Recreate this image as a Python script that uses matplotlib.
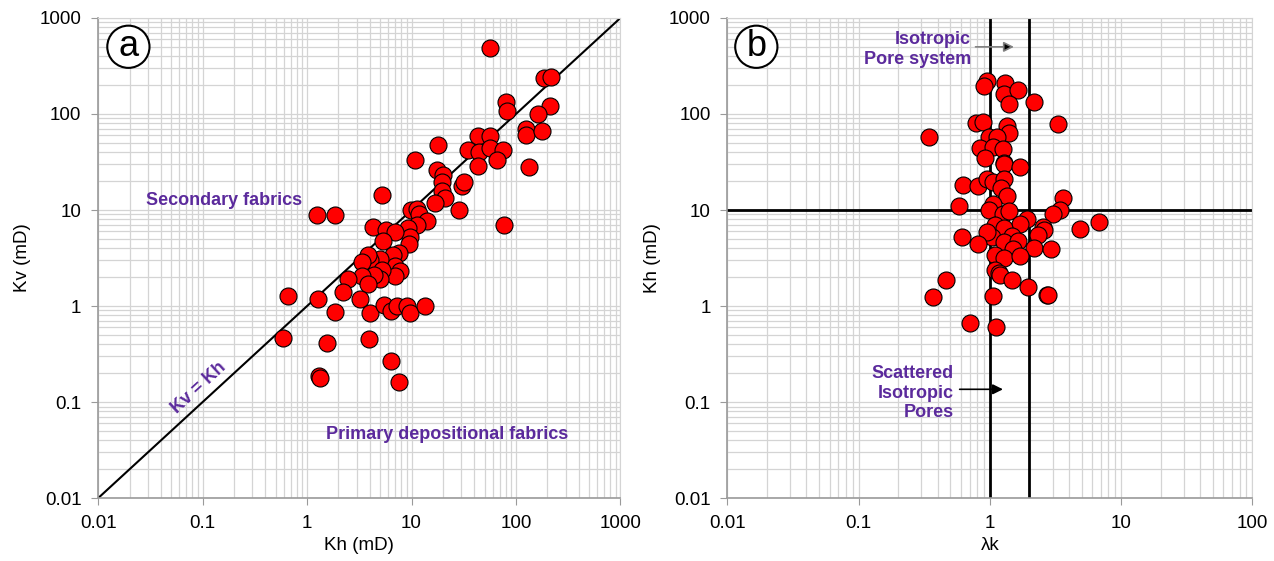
import numpy as np
import matplotlib
matplotlib.use("Agg")
import matplotlib.pyplot as plt
from matplotlib.ticker import LogLocator, NullFormatter

plt.rcParams['font.family'] = ['Liberation Sans', 'DejaVu Sans']

# --- Panel (a): Kh vs Kv (mD) ---
kh_a = [57, 185, 218, 80, 82, 212, 162, 126, 124, 177, 133, 77,
        43, 57, 35, 44, 57, 75, 66, 43, 18, 10.8, 17.5, 20, 19.4, 19.4, 21, 16.7,
        30.5, 32, 28.4, 9.9, 11.3, 11.8, 14.2, 11.3, 9.3, 9.7, 9.5,
        5.26, 4.3, 5.75, 6.9, 5.3, 7.55, 6.6, 6.9, 7.8, 6.9,
        5.0, 4.0, 3.8, 5.26, 5.0, 4.4, 3.35, 3.35, 3.8, 2.44, 2.23, 3.2,
        4.0, 5.4, 6.3, 7.2, 9.0, 9.7, 13.5, 1.24, 1.87, 0.66, 1.28, 1.87,
        0.59, 1.56, 3.9, 6.3, 1.3, 1.32, 7.55]
kv_a = [486, 235, 245, 133, 107, 122, 99, 69, 60, 66, 28, 7.05,
        59, 59, 42, 40, 44, 42, 33, 29, 48, 33, 26, 23, 19.6, 15.8, 13.3, 11.7,
        18, 19.5, 9.9, 9.9, 10.3, 9.1, 7.7, 7.05, 6.5, 5.2, 4.4,
        14.2, 6.7, 6.2, 5.9, 4.8, 3.6, 3.4, 2.6, 2.3, 2.05,
        3.1, 3.0, 3.4, 2.4, 1.9, 2.1, 2.9, 2.05, 1.7, 1.9, 1.4, 1.18,
        0.84, 1.02, 0.89, 1.0, 1.0, 0.84, 1.0, 8.85, 8.85, 1.28, 1.18, 0.875,
        0.47, 0.41, 0.45, 0.27, 0.189, 0.178, 0.163]

# --- Panel (b): lambda k vs Kh (mD) ---
lam_b = [0.95, 0.90, 1.30, 1.28, 1.63, 1.40, 2.18, 3.33, 0.78, 0.88, 1.35, 1.40,
         0.346, 0.98, 1.13, 0.84, 1.05, 1.26, 0.92, 1.28, 1.28, 1.69,
         0.62, 0.81, 0.95, 1.05, 1.28, 1.21, 1.35, 3.62, 0.58, 1.05, 0.98,
         1.26, 1.40, 3.45, 3.0, 1.92, 6.75, 1.69, 1.09, 1.28, 4.9, 2.55, 2.6,
         2.34, 0.61, 1.04, 1.48, 0.95, 0.81, 1.28, 1.63, 2.17, 2.93, 1.5,
         1.09, 1.28, 1.69, 1.09, 1.17, 1.2, 1.48, 0.46, 1.95, 2.7, 2.75,
         0.37, 1.05, 0.71, 1.11]
kh_b = [221, 195, 212, 162, 176, 127, 133, 78, 80, 83, 75, 64,
        57, 57, 57, 44, 45, 43, 35, 31, 30, 28,
        18.3, 18, 20.8, 19.6, 21, 17, 13.9, 13.3, 11, 11.5, 9.9,
        9.1, 9.7, 9.9, 9.1, 8.0, 7.5, 7.2, 7.05, 6.5, 6.35, 6.7, 6.2,
        5.5, 5.3, 5.3, 5.35, 5.9, 4.4, 4.6, 4.8, 4.05, 3.9, 3.9,
        3.4, 3.2, 3.3, 2.4, 2.2, 2.1, 1.88, 1.87, 1.57, 1.3, 1.32,
        1.25, 1.28, 0.66, 0.6]

purple = '#5b2a9c'
grid_c = '#d4d4d4'
tick_fs = 13.5
note_fs = 13


def style_axes(ax, xlim, ylim):
    ax.set_xscale('log')
    ax.set_yscale('log')
    ax.set_xlim(*xlim)
    ax.set_ylim(*ylim)
    for axis in (ax.xaxis, ax.yaxis):
        axis.set_major_locator(LogLocator(base=10, numticks=20))
        axis.set_minor_locator(LogLocator(base=10, subs=np.arange(2, 10), numticks=20))
        axis.set_minor_formatter(NullFormatter())
    ax.xaxis.set_major_formatter(plt.FuncFormatter(lambda v, p: f'{v:g}'))
    ax.yaxis.set_major_formatter(plt.FuncFormatter(lambda v, p: f'{v:g}'))
    ax.grid(True, which='both', color=grid_c, lw=0.9, zorder=0)
    ax.set_axisbelow(True)
    for s in ('top', 'right'):
        ax.spines[s].set_color(grid_c)
    for s in ('left', 'bottom'):
        ax.spines[s].set_color('#9a9a9a')
        ax.spines[s].set_linewidth(1.2)
    ax.tick_params(which='major', direction='out', length=5, color='#9a9a9a',
                   labelsize=tick_fs, pad=7)
    ax.tick_params(which='minor', length=0)


fig = plt.figure(figsize=(12.74, 5.61), dpi=100)
ax1 = fig.add_axes([0.077, 0.112, 0.410, 0.856])
ax2 = fig.add_axes([0.571, 0.112, 0.412, 0.856])

# ---- (a) ----
style_axes(ax1, (0.01, 1000), (0.01, 1000))
ax1.plot([0.01, 1000], [0.01, 1000], color='black', lw=1.5, zorder=2)
ax1.scatter(kh_a, kv_a, s=150, c='#ff0000', edgecolors='black', linewidths=0.8, zorder=3)
ax1.set_xlabel('Kh (mD)', fontsize=13.5, labelpad=4)
ax1.set_ylabel('Kv (mD)', fontsize=13.5, labelpad=6)
ax1.text(0.091, 0.62, 'Secondary fabrics', transform=ax1.transAxes, color=purple,
         fontsize=note_fs, fontweight='bold', va='center', ha='left')
ax1.text(0.436, 0.133, 'Primary depositional fabrics', transform=ax1.transAxes,
         color=purple, fontsize=note_fs, fontweight='bold', va='center', ha='left')
ax1.text(0.092, 0.14, 'Kv = Kh', color=purple, fontsize=note_fs, fontweight='bold',
         rotation=42.6, ha='center', va='center', rotation_mode='anchor')
ax1.text(0.058, 0.94, 'a', transform=ax1.transAxes, fontsize=26, ha='center', va='center',
         bbox=dict(boxstyle='circle,pad=0.1', fc='white', ec='black', lw=1.5))

# ---- (b) ----
style_axes(ax2, (0.01, 100), (0.01, 1000))
ax2.axvline(1, color='black', lw=2, zorder=2)
ax2.axvline(2, color='black', lw=2, zorder=2)
ax2.axhline(10, color='black', lw=2, zorder=2)
ax2.scatter(lam_b, kh_b, s=150, c='#ff0000', edgecolors='black', linewidths=0.8, zorder=3)
ax2.set_xlabel('λk', fontsize=13.5, labelpad=4)
ax2.set_ylabel('Kh (mD)', fontsize=13.5, labelpad=6)
ax2.text(0.055, 0.94, 'b', transform=ax2.transAxes, fontsize=26, ha='center', va='center',
         bbox=dict(boxstyle='circle,pad=0.1', fc='white', ec='black', lw=1.5))
ax2.text(0.72, 470, 'Isotropic\nPore system', color=purple, fontsize=note_fs,
         fontweight='bold', ha='right', va='center', linespacing=1.2, zorder=4)
ax2.annotate('', xy=(1.6, 500), xytext=(0.74, 500),
             arrowprops=dict(arrowstyle='-|>', color='#808080', lw=1.2,
                             mutation_scale=15, fc='black', ec='#808080'), zorder=4)
ax2.text(0.53, 0.124, 'Scattered\nIsotropic\nPores', color=purple, fontsize=note_fs,
         fontweight='bold', ha='right', va='center', linespacing=1.2, zorder=4)
ax2.annotate('', xy=(1.32, 0.136), xytext=(0.56, 0.136),
             arrowprops=dict(arrowstyle='-|>', color='black', lw=1.2,
                             mutation_scale=15), zorder=4)

fig.savefig('out.png', dpi=100)
